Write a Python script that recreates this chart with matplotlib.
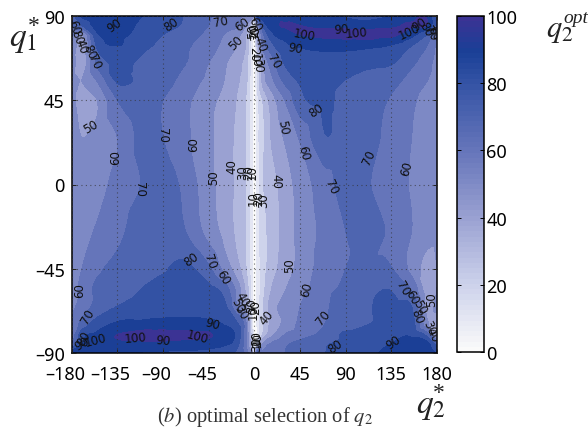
import numpy as np
import matplotlib
matplotlib.use("Agg")
import matplotlib.pyplot as plt
import matplotlib.tri as mtri
from matplotlib.colors import LinearSegmentedColormap, Normalize
from matplotlib.cm import ScalarMappable
from matplotlib.transforms import ScaledTranslation

plt.rcParams['font.family'] = ['Noto Sans', 'DejaVu Sans']
plt.rcParams['mathtext.fontset'] = 'stix'

q2_nodes = [-180,-170,-155,-135,-110,-90,-70,-45,-30,-18,-8,-2,0,2,8,18,30,45,70,90,110,135,155,170,180]
q1_nodes = [90,85,80,74,65,55,45,25,0,-25,-45,-55,-65,-74,-80,-85,-90]

row_p90 = [75,92,95,95,90,85,80,71,66,62,60,60,60,85,98,98,94,94,92,88,85,90,95,99,75]
row_p85 = [70,80,94,94,88,84,79,70,64,62,50,20,0,35,80,96,101,100,98,97,95,98,101,100,75]
row_p80 = [62,50,88,92,86,80,76,67,60,54,40,15,0,30,65,88,94,100,102,103,103,102,93,80,62]
row_p74 = [58,45,82,90,82,78,72,65,57,50,38,12,0,25,61,78,87,91,93,93,92,89,80,70,58]
row_p65 = [55,44,72,82,78,76,71,60,52,43,34,12,0,15,47,66,81,84,86,85,83,81,72,64,56]
row_p55 = [54,50,60,81,77.5,75,66,57,50,42,32,10,0,13,42,58,72,81,83,79.5,76,73,66,60,56]
row_p45 = [53,46,50,70,77,70,63,53,47,40,29,10,0,12,30,46,60,77,82,76,74,69,62,56,55]
row_p25 = [53,50,53,60,73,70,63,52,45,38,28,10,0,12,27,42,51,61,79.5,75,73,67,60,56,54]
row_00  = [55,55,57,63,70.5,74,68,53,46,38,29,10,0,10,28,36,45,54,66,74,71,65,59,55,55]
row_m25 = [55,57,61,67,76,77,71,56,47,38,28,10,0,10,25,34,44,53,63,70,74,68,60,53,52]
row_m45 = [57,60,68,73,77,79,83,72,57,45,30,10,0,10,24,36,45,53,65,70,71,70.5,57,47,50]
row_m55 = [55,63,72,75,80,83,85,82,75,57,36,12,0,8,25,41,49,56,66,72,76,79,68,45,50]
row_m65 = [57,64,73,80,84,85,86,84,83,62,42,14,0,8,28,46,53,60,68,78,79,82,80,47,52]
row_m74 = [60,73,84,91,92,93,93,92,89,82,60,15,0,8,28,44,52,62,70,74,79,83,85,52,42]
row_m80 = [62,85,92,100,103,103,102,101,95,88,60,20,0,8,30,48,60,65,73,82,85,86,88,75,35]
row_m85 = [70,90,96,98,98,98,97,96,92,85,60,25,0,20,50,62,68,73,79,83,87,90,93,93,75]
row_m90 = [95,95,92,90,89,88,87,85,82,78,65,40,0,60,63,66,70,75,80,85,88,92,96,97,90]

label_values = [90,80,70,60,50,60,80,40,80,70,50,60,70,60,50,40,30,20,10,
                100,90,70,40,90,100,100,90,80,70,60,80,50,60,70,60,40,
                70,60,70,80,90,100,100,90,100,90,80,70,60,40,50,30,
                10,20,30,10,20,30,60,50,20,30,10,20,30,10,20,30,
                70,50,60,40,70,80,90,70,60,50,80,50,30,40]
label_q2 = [-138,-82,-33,-12,-18,-178,-175,-171,-162,-158,-161,-137,-91,-60,-40,-22,-12,-6,-2,
            49,40,19,6,86,101,153,163,169,174,177,61,28,48,113,150,21,
            -113,-172,-164,-168,-170,-157,-117,-90,-56,-41,-62,-44,-31,-12,-16,-13,
            -1,1,-3,2,3,2,1,-2,0,1,1,-1,3,-1,4,9,
            76,35,52,12,68,80,137,146,155,163,160,175,173,176]
label_q1 = [85,86,87,86,76,84,79,74,71,66,31,15,27,22,4,10,7,7,7,
            80,73,66,75,83,81,82,86,83,81,81,40,31,17,15,9,2,
            -2,-56,-70,-82,-85,-83,-82,-83,-81,-74,-40,-41,-49,-61,-64,-68,
            -68,-65,-64,-81,-83,-85,86,82,83,81,67,70,64,-7,-7,-8,
            -1,-43,-56,-71,-71,-86,-84,-55,-60,-65,-70,-61,-76,-80]
label_rot = [35,35,10,35,45,-70,-70,-70,-65,-65,30,90,-90,90,90,90,90,90,90,
             -10,-10,-60,-70,5,5,25,35,-60,-60,-60,35,-80,-75,65,75,-90,
             -90,90,60,60,30,15,5,-5,-15,-15,35,-70,-60,-60,-60,-60,
             90,90,90,90,90,90,-60,90,90,90,-90,-90,-90,90,90,90,
             -65,90,75,50,50,35,35,-60,-60,-60,-70,90,-65,-65]

x_ticks = [-180,-135,-90,-45,0,45,90,135,180]
y_ticks = [-90,-45,0,45,90]
bar_ticks = [0,20,40,60,80,100]
levels = [0,10,20,30,40,50,60,70,80,90,100,110]

Z = np.array([row_p90,row_p85,row_p80,row_p74,row_p65,row_p55,row_p45,row_p25,row_00,
              row_m25,row_m45,row_m55,row_m65,row_m74,row_m80,row_m85,row_m90], dtype=float)

cmap = LinearSegmentedColormap.from_list("opt", [
    (0.00, (0.98,0.98,0.98)),
    (0.20, (0.80,0.82,0.92)),
    (0.40, (0.60,0.63,0.82)),
    (0.60, (0.40,0.46,0.73)),
    (0.80, (0.21,0.33,0.65)),
    (0.90, (0.10,0.25,0.59)),
    (1.00, (0.23,0.20,0.58))], N=64)
norm = Normalize(0, 100)

W, H = 588, 435
fig = plt.figure(figsize=(W/100, H/100), dpi=100)
ax = fig.add_axes([71.7/W, 1-354/H, 365.3/W, 337/H])
fill_colors = [cmap(norm(l)) for l in levels[:-1]]
XX, YY = np.meshgrid(q2_nodes, q1_nodes)
tri = mtri.Triangulation(XX.ravel(), YY.ravel())
refiner = mtri.UniformTriRefiner(tri)
interp = mtri.CubicTriInterpolator(tri, Z.ravel(), kind='geom')
tri_fine, z_fine = refiner.refine_field(Z.ravel(), triinterpolator=interp, subdiv=3)
ax.tricontourf(tri_fine, z_fine, levels=levels, extend='both',
               colors=[fill_colors[0]] + fill_colors + [fill_colors[-1]])
ax.set_xlim(-180, 180)
ax.set_ylim(-90, 90)
ax.set_xticks(x_ticks)
ax.set_yticks(y_ticks)
ax.set_xticklabels([str(v).replace('-', '–') for v in x_ticks], fontsize=13)
ax.set_yticklabels([str(v).replace('-', '–') for v in y_ticks], fontsize=13)
ax.tick_params(axis='both', direction='in', length=3, width=0.7, top=True, right=True, color='#222222')
ax.tick_params(axis='x', pad=9)
ax.tick_params(axis='y', pad=5)
ax.grid(True, color='#333333', linestyle=(0, (1, 3)), linewidth=0.8, alpha=0.7)
ax.set_axisbelow(False)
for s in ax.spines.values():
    s.set_linewidth(1.1)
for v, lab in zip(x_ticks, ax.get_xticklabels()):
    if v < 0:
        lab.set_transform(lab.get_transform() + ScaledTranslation(-5/72, 0, fig.dpi_scale_trans))

for v, x, y, r in zip(label_values, label_q2, label_q1, label_rot):
    ax.text(x, y, str(v), fontsize=8.5, family='DejaVu Sans', rotation=r, ha='center', va='center',
            color='#111111', rotation_mode='anchor', clip_on=True)

cax = fig.add_axes([457/W, 1-353/H, 26.5/W, 336/H])
cb = fig.colorbar(ScalarMappable(norm=norm, cmap=cmap), cax=cax)
cb.set_ticks(bar_ticks)
cb.ax.tick_params(labelsize=13, length=3, width=0.7, direction='in', pad=2, left=True, right=True)
cb.outline.set_linewidth(1.1)

ink = '#222222'
fig.text(9/W, 1-46/H, r'$q_1$', fontsize=24, color=ink, ha='left', va='baseline')
fig.text(28/W, 1-32/H, '*', fontsize=17, color=ink, family='Liberation Serif', ha='left', va='baseline')
fig.text(546/W, 1-37/H, r'$q_2$', fontsize=22, color=ink, ha='left', va='baseline')
fig.text(563/W, 1-23/H, 'opt', fontsize=14, color=ink, family='Liberation Serif', style='italic', ha='left', va='baseline')
fig.text(416/W, 1-413/H, r'$q_2$', fontsize=24, color=ink, ha='left', va='baseline')
fig.text(433/W, 1-399/H, '*', fontsize=17, color=ink, family='Liberation Serif', ha='left', va='baseline')
fig.text(157/W, 1-422/H, r'($\mathit{b}$) optimal selection of $q_2$', fontsize=14.8,
         family='Liberation Serif', color='#333333', ha='left', va='baseline')

fig.savefig("out.png", dpi=100)
